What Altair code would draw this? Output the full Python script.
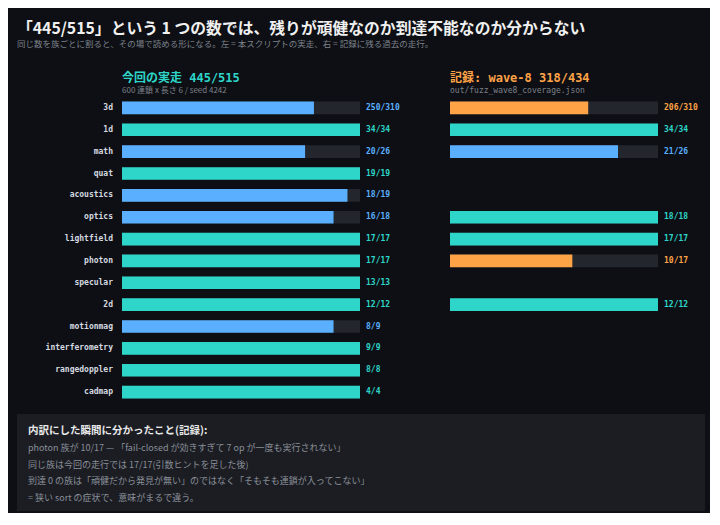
import altair as alt
import pandas as pd

# family coverage: this run (left) vs recorded wave-8 (right)
families = ["3d", "1d", "math", "quat", "acoustics", "optics", "lightfield",
            "photon", "specular", "2d", "motionmag", "interferometry",
            "rangedoppler", "cadmap"]
run_done = [250, 34, 20, 19, 18, 16, 17, 17, 13, 12, 8, 9, 8, 4]
run_total = [310, 34, 26, 19, 19, 18, 17, 17, 13, 12, 9, 9, 8, 4]

rec_families = ["3d", "1d", "math", "optics", "lightfield", "photon", "2d"]
rec_done = [206, 34, 21, 18, 17, 10, 12]
rec_total = [310, 34, 26, 18, 17, 17, 12]

note_head = "内訳にした瞬間に分かったこと(記録):"
note_lines = [
    "photon 族が 10/17 — 「fail-closed が効きすぎて 7 op が一度も実行されない」",
    "同じ族は今回の走行では 17/17(引数ヒントを足した後)",
    "到達 0 の族は「頑健だから発見が無い」のではなく「そもそも連鎖が入ってこない」",
    "= 狭い sort の症状で、意味がまるで違う。",
]

BG = "#0d0f14"
TEAL = "#2dd6c9"
BLUE = "#5ab0ff"
ORANGE = "#ffa347"
TRACK = "#23262d"
MONO = "DejaVu Sans Mono, Noto Sans CJK JP"
JP = "Noto Sans CJK JP"

color_scale = alt.Scale(domain=["full", "partial", "low"], range=[TEAL, BLUE, ORANGE])
y_scale = alt.Scale(domain=families, paddingInner=0.42, paddingOuter=0.21)
x_scale = alt.Scale(domain=[0, 1])
y_enc = alt.Y("family:N", scale=y_scale, axis=None, title=None)


def panel(names, done, total, width, title):
    df = pd.DataFrame({"family": names, "done": done, "total": total})
    base = alt.Chart(df).transform_calculate(
        ratio="datum.done / datum.total",
        one="1",
        label="datum.done + '/' + datum.total",
        status="datum.done == datum.total ? 'full' : "
               "(datum.done / datum.total >= 0.7 ? 'partial' : 'low')",
    )
    track = base.mark_bar(color=TRACK).encode(
        x=alt.X("one:Q", scale=x_scale, axis=None), y=y_enc)
    fill = base.mark_bar().encode(
        x=alt.X("ratio:Q", scale=x_scale, axis=None), y=y_enc,
        color=alt.Color("status:N", scale=color_scale, legend=None))
    text = base.mark_text(align="left", dx=6, font=MONO, fontWeight="bold",
                          fontSize=8).encode(
        x=alt.X("one:Q", scale=x_scale, axis=None), y=y_enc, text="label:N",
        color=alt.Color("status:N", scale=color_scale, legend=None))
    return alt.layer(track, fill, text).properties(
        width=width, height=306, title=title)


labels = alt.Chart(pd.DataFrame({"family": families})).mark_text(
    align="right", font=MONO, fontWeight="bold", fontSize=8, color="#d6dae0"
).encode(x=alt.value(96), y=y_enc, text="family:N").properties(
    width=105, height=306)

left = panel(families, run_done, run_total, 238,
             alt.TitleParams("今回の実走 445/515",
                             subtitle="600 連鎖 x 長さ 6 / seed 4242",
                             anchor="start", frame="group", font=MONO,
                             fontSize=12, fontWeight="bold", color=TEAL,
                             subtitleFont=JP, subtitleFontSize=8,
                             subtitleColor="#7d828b", subtitlePadding=2,
                             offset=1))
right = panel(rec_families, rec_done, rec_total, 208,
              alt.TitleParams("記録: wave-8 318/434",
                              subtitle="out/fuzz_wave8_coverage.json",
                              anchor="start", frame="group", font=MONO,
                              fontSize=12, fontWeight="bold", color=ORANGE,
                              subtitleFont="DejaVu Sans Mono",
                              subtitleFontSize=8, subtitleColor="#7d828b",
                              subtitlePadding=2, offset=1))

note_df = pd.DataFrame({"i": list(range(len(note_lines) + 1)),
                        "line": [note_head] + note_lines})
note_y = alt.Y("i:O", scale=alt.Scale(type="point", range=[17, 84], padding=0),
               axis=None)
note_base = alt.Chart(note_df)
note = alt.layer(
    note_base.transform_filter("datum.i == 0").mark_text(
        align="left", font=JP, fontWeight="bold", fontSize=10.5,
        color="#e8e8e8").encode(x=alt.value(11), y=note_y, text="line:N"),
    note_base.transform_filter("datum.i > 0").mark_text(
        align="left", font=JP, fontSize=9,
        color="#8a8f98").encode(x=alt.value(11), y=note_y, text="line:N"),
).properties(width=688, height=97,
             view=alt.ViewBackground(fill="#1b1d23", strokeWidth=0))

chart = alt.vconcat(
    alt.hconcat(alt.hconcat(labels, left, spacing=0), right, spacing=50),
    note,
    spacing=11,
).properties(
    background=BG,
    padding={"left": 9, "top": 12, "right": 5, "bottom": 2},
    title=alt.TitleParams(
        "「445/515」という 1 つの数では、残りが頑健なのか到達不能なのか分からない",
        subtitle="同じ数を族ごとに割ると、その場で読める形になる。左 = 本スクリプトの実走、右 = 記録に残る過去の走行。",
        anchor="start", font=JP, fontSize=15.8, fontWeight="bold",
        color="#f0f0f0", subtitleFont=JP, subtitleFontSize=8.5,
        subtitleColor="#7d828b", subtitlePadding=3, offset=22),
).configure_view(strokeWidth=0)

chart.save("out.html", embed_options={"renderer": "svg", "actions": False})
